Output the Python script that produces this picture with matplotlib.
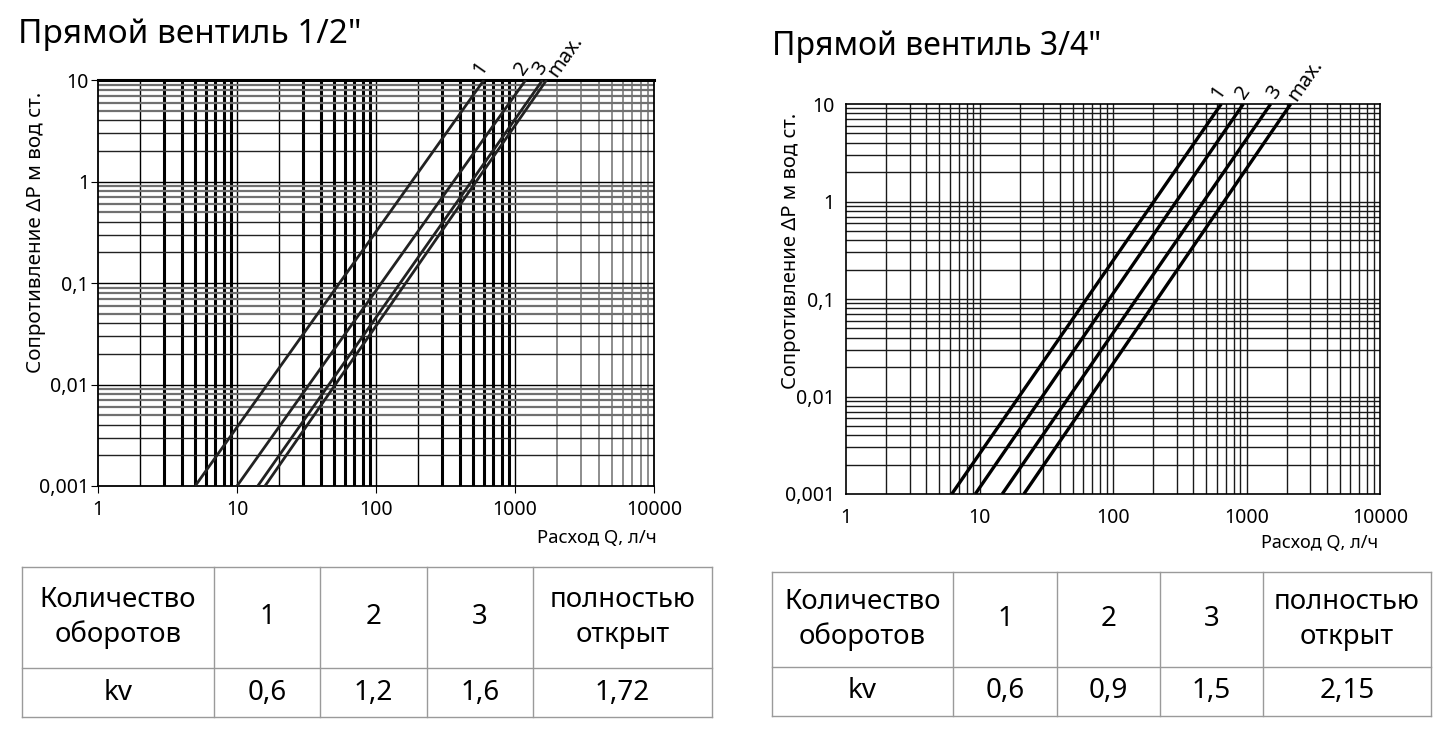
import numpy as np
import matplotlib
matplotlib.use('Agg')
import matplotlib.pyplot as plt
from matplotlib.ticker import FixedLocator, FixedFormatter, NullLocator

plt.rcParams['font.family'] = ['Noto Sans', 'DejaVu Sans']

# данные: расход при dP=0.001 и при dP=10 м вод. ст.
dp_ends = [0.001, 10]
labels_lines = ['1', '2', '3', 'max.']
q_low_12 = [5.0, 10.0, 14.1, 15.9]
q_high_12 = [598, 1194, 1580, 1687]
q_low_34 = [6.2, 9.3, 14.8, 21.5]
q_high_34 = [647, 946, 1517, 2143]

y_ticks = [0.001, 0.01, 0.1, 1, 10]
y_tick_labels = ['0,001', '0,01', '0,1', '1', '10']
x_ticks = [1, 10, 100, 1000, 10000]
x_tick_labels = ['1', '10', '100', '1000', '10000']

# таблицы kv
table_head = ['Количество\nоборотов', '1', '2', '3', 'полностью\nоткрыт']
kv_12 = ['kv', '0,6', '1,2', '1,6', '1,72']
kv_34 = ['kv', '0,6', '0,9', '1,5', '2,15']

# сдвиги подписей линий (в пунктах)
offs_12 = [(-5, 5), (-5, 5), (-4, 5), (4.3, 3.6)]
offs_34 = [(-4.3, 4.7), (-2.2, 4.7), (0, 4.7), (0.7, 3.6)]

W, H = 1451, 733
fig = plt.figure(figsize=(W / 100, H / 100), dpi=100)


def frac(x0, y0, x1, y1):
    # пиксели -> доли фигуры
    return [x0 / W, 1 - y1 / H, (x1 - x0) / W, (y1 - y0) / H]


def setup_axes(ax, pad_y, pad_x, tick_len):
    ax.set_xscale('log')
    ax.set_yscale('log')
    ax.set_xlim(1, 10000)
    ax.set_ylim(0.001, 10)
    ax.xaxis.set_major_locator(FixedLocator(x_ticks))
    ax.xaxis.set_major_formatter(FixedFormatter(x_tick_labels))
    ax.yaxis.set_major_locator(FixedLocator(y_ticks))
    ax.yaxis.set_major_formatter(FixedFormatter(y_tick_labels))
    ax.xaxis.set_minor_locator(NullLocator())
    ax.yaxis.set_minor_locator(NullLocator())
    ax.tick_params(axis='y', labelsize=14, pad=pad_y, length=tick_len, direction='out')
    ax.tick_params(axis='x', labelsize=14, pad=pad_x, length=tick_len, direction='out')


def line_labels(ax, q_high, offs):
    for lab, qh, off in zip(labels_lines, q_high, offs):
        ax.annotate(lab, (qh, 10), xytext=off, textcoords='offset points',
                    rotation=55, rotation_mode='anchor', ha='left', va='center',
                    fontsize=14.5, annotation_clip=False)


# ---------- левый график 1/2" ----------
ax1 = fig.add_axes(frac(98, 80, 654, 486))
setup_axes(ax1, 1.5, 5, 5)
for dec in [1, 10, 100, 1000]:
    for s in range(1, 10):
        v = dec * s
        if v <= 1 or v >= 10000:
            continue
        if dec == 1000 and s > 1:
            ax1.axvline(v, color='#7a7a7a', lw=1.2, zorder=1)
        elif s in (1, 2):
            ax1.axvline(v, color='black', lw=1.0, zorder=1)
        else:
            ax1.axvline(v, color='black', lw=2.2, zorder=1)
for dec in [0.001, 0.01, 0.1, 1]:
    for s in range(1, 10):
        v = dec * s
        if v <= 0.001:
            continue
        if s == 1:
            ax1.axhline(v, color='black', lw=1.0, zorder=1)
        elif s <= 4:
            ax1.axhline(v, color='#222222', lw=1.0, zorder=1)
        else:
            ax1.axhline(v, color='#707070', lw=1.6, zorder=1)
for ql, qh in zip(q_low_12, q_high_12):
    ax1.plot([ql, qh], dp_ends, color='#222222', lw=2.0, zorder=3, solid_capstyle='butt')
line_labels(ax1, q_high_12, offs_12)
for side in ['left', 'bottom', 'right']:
    ax1.spines[side].set_linewidth(1.3)
ax1.spines['top'].set_linewidth(2.2)

# ---------- правый график 3/4" ----------
ax2 = fig.add_axes(frac(846, 104, 1380, 494))
setup_axes(ax2, 8, 10, 0)
for dec in [1, 10, 100, 1000]:
    for s in range(2, 11):
        v = dec * s
        if v >= 10000:
            continue
        ax2.axvline(v, color='#1a1a1a', lw=1.0, zorder=1)
for dec in [0.001, 0.01, 0.1, 1]:
    for s in range(2, 11):
        v = dec * s
        if v >= 10:
            continue
        ax2.axhline(v, color='#1a1a1a', lw=1.0, zorder=1)
for ql, qh in zip(q_low_34, q_high_34):
    ax2.plot([ql, qh], dp_ends, color='black', lw=2.4, zorder=3, solid_capstyle='butt')
line_labels(ax2, q_high_34, offs_34)
for side in ax2.spines:
    ax2.spines[side].set_linewidth(1.2)

# ---------- подписи и таблицы (в пикселях) ----------
ov = fig.add_axes([0, 0, 1, 1], zorder=-1)
ov.set_xlim(0, W)
ov.set_ylim(H, 0)
ov.axis('off')

ov.text(18, 43, 'Прямой вентиль 1/2"', fontsize=24, ha='left', va='baseline')
ov.text(772, 55, 'Прямой вентиль 3/4"', fontsize=23, ha='left', va='baseline')

ylab = 'Сопротивление ΔP м вод ст.'
fig.text(36 / W, 1 - 232 / H, ylab, rotation=90, ha='center', va='center', fontsize=14.8)
fig.text(791 / W, 1 - 251 / H, ylab, rotation=90, ha='center', va='center', fontsize=14.5)
ov.text(657, 538, 'Расход Q, л/ч', ha='right', va='center', fontsize=13.3)
ov.text(1378, 543, 'Расход Q, л/ч', ha='right', va='center', fontsize=13)


def draw_table(xs, y0, ymid, y1, head, row):
    for x in xs:
        ov.plot([x, x], [y0, y1], color='#9a9a9a', lw=1.0)
    for y in (y0, ymid, y1):
        ov.plot([xs[0], xs[-1]], [y, y], color='#9a9a9a', lw=1.0)
    for i in range(len(head)):
        cx = (xs[i] + xs[i + 1]) / 2
        ov.text(cx, (y0 + ymid) / 2, head[i], ha='center', va='center',
                fontsize=19.8, linespacing=1.3)
        ov.text(cx, (ymid + y1) / 2, row[i], ha='center', va='center', fontsize=20)


draw_table([22, 214, 320, 427, 533, 712], 567, 668, 717, table_head, kv_12)
draw_table([772, 953, 1057, 1160, 1263, 1431], 572, 667, 716, table_head, kv_34)

fig.savefig('out.png', dpi=100)
